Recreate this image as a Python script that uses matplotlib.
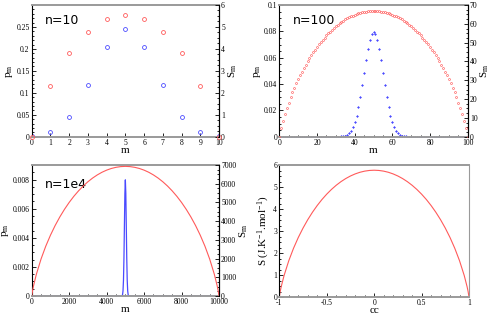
import numpy as np
import matplotlib
matplotlib.use("Agg")
import matplotlib.pyplot as plt
from matplotlib.ticker import MultipleLocator

plt.rcParams['font.family'] = ['Liberation Serif', 'DejaVu Serif']
plt.rcParams['mathtext.fontset'] = 'custom'
plt.rcParams['mathtext.rm'] = 'Liberation Serif'
plt.rcParams['mathtext.it'] = 'Liberation Serif'

red = '#ff5a5a'
blue = '#4a4aff'
grey = '#9a9a9a'

# n = 10
m10 = list(range(11))
p10 = [0.00098, 0.00977, 0.04395, 0.11719, 0.20508, 0.24609,
       0.20508, 0.11719, 0.04395, 0.00977, 0.00098]
s10 = [0.0, 2.303, 3.807, 4.787, 5.347, 5.529, 5.347, 4.787, 3.807, 2.303, 0.0]

# n = 100
m100 = list(range(101))
s100 = [0.0, 4.6, 8.5, 12.0, 15.2, 18.1, 20.9, 23.5, 25.9, 28.3,
        30.5, 32.6, 34.6, 36.5, 38.3, 40.1, 41.7, 43.3, 44.9, 46.3,
        47.7, 49.1, 50.3, 51.6, 52.7, 53.8, 54.9, 55.9, 56.9, 57.8,
        58.6, 59.5, 60.2, 60.9, 61.6, 62.3, 62.9, 63.4, 63.9, 64.4,
        64.8, 65.2, 65.5, 65.8, 66.1, 66.3, 66.5, 66.6, 66.7, 66.8,
        66.8,
        66.8, 66.7, 66.6, 66.5, 66.3, 66.1, 65.8, 65.5, 65.2, 64.8,
        64.4, 63.9, 63.4, 62.9, 62.3, 61.6, 60.9, 60.2, 59.5, 58.6,
        57.8, 56.9, 55.9, 54.9, 53.8, 52.7, 51.6, 50.3, 49.1, 47.7,
        46.3, 44.9, 43.3, 41.7, 40.1, 38.3, 36.5, 34.6, 32.6, 30.5,
        28.3, 25.9, 23.5, 20.9, 18.1, 15.2, 12.0, 8.5, 4.6, 0.0]
p100 = [0.0] * 30 + [
    0.00002, 0.00005, 0.00011, 0.00023, 0.00046, 0.00086, 0.00156, 0.00270,
    0.00448, 0.00711, 0.01084, 0.01587, 0.02229, 0.03007, 0.03895, 0.04847,
    0.05796, 0.06659, 0.07353, 0.07803, 0.07959, 0.07803, 0.07353, 0.06659,
    0.05796, 0.04847, 0.03895, 0.03007, 0.02229, 0.01587, 0.01084, 0.00711,
    0.00448, 0.00270, 0.00156, 0.00086, 0.00046, 0.00023, 0.00011, 0.00005,
    0.00002] + [0.0] * 30

# n = 1e4
m_s1e4 = [0, 50, 100, 250, 500, 750, 1000, 1250, 1500, 1750, 2000, 2250,
          2500, 2750, 3000, 3250, 3500, 3750, 4000, 4250, 4500, 4750, 5000,
          5250, 5500, 5750, 6000, 6250, 6500, 6750, 7000, 7250, 7500, 7750,
          8000, 8250, 8500, 8750, 9000, 9250, 9500, 9750, 9900, 9950, 10000]
s1e4 = [0, 310, 555, 1165, 1980, 2660, 3246, 3763, 4222, 4632, 4999, 5327,
        5618, 5877, 6104, 6301, 6469, 6611, 6725, 6814, 6876, 6914, 6927,
        6914, 6876, 6814, 6725, 6611, 6469, 6301, 6104, 5877, 5618, 5327,
        4999, 4632, 4222, 3763, 3246, 2660, 1980, 1165, 555, 310, 0]
m_p1e4 = [0, 4800, 4825, 4850, 4875, 4900, 4925, 4950, 4975, 5000,
          5025, 5050, 5075, 5100, 5125, 5150, 5175, 5200, 10000]
p1e4 = [0.0, 0.0000027, 0.0000175, 0.0000887, 0.000351, 0.00108, 0.002591,
        0.004839, 0.007042, 0.007979, 0.007042, 0.004839, 0.002591, 0.00108,
        0.000351, 0.0000887, 0.0000175, 0.0000027, 0.0]

# S(cc)
cc = [-1.0, -0.99, -0.98, -0.95, -0.9, -0.85, -0.8, -0.75, -0.7, -0.65, -0.6,
      -0.55, -0.5, -0.45, -0.4, -0.35, -0.3, -0.25, -0.2, -0.15, -0.1, -0.05,
      0.0, 0.05, 0.1, 0.15, 0.2, 0.25, 0.3, 0.35, 0.4, 0.45, 0.5, 0.55, 0.6,
      0.65, 0.7, 0.75, 0.8, 0.85, 0.9, 0.95, 0.98, 0.99, 1.0]
s_cc = [0.0, 0.262, 0.465, 0.972, 1.650, 2.215, 2.703, 3.132, 3.514, 3.855,
        4.160, 4.433, 4.675, 4.890, 5.079, 5.243, 5.383, 5.500, 5.595, 5.669,
        5.721, 5.752, 5.763, 5.752, 5.721, 5.669, 5.595, 5.500, 5.383, 5.243,
        5.079, 4.890, 4.675, 4.433, 4.160, 3.855, 3.514, 3.132, 2.703, 2.215,
        1.650, 0.972, 0.465, 0.262, 0.0]

W, H = 491, 314
fig = plt.figure(figsize=(W / 100, H / 100), dpi=100)
TS = 5.5


def frame(ax, right=True):
    ax.spines['top'].set_color(grey)
    ax.spines['bottom'].set_color(grey)
    ax.spines['top'].set_linewidth(1.4)
    ax.spines['bottom'].set_linewidth(1.4)
    ax.spines['left'].set_linewidth(0.8)
    ax.spines['right'].set_linewidth(0.8)
    if not right:
        ax.spines['right'].set_color(grey)
    ax.tick_params(which='both', direction='in', labelsize=TS, pad=1.5,
                   width=0.6, top=False)
    ax.tick_params(which='major', length=3)
    ax.tick_params(which='minor', length=1.5)


def twin_frame(ax2):
    ax2.spines['top'].set_visible(False)
    ax2.spines['bottom'].set_visible(False)
    ax2.spines['left'].set_visible(False)
    ax2.spines['right'].set_linewidth(0.8)
    ax2.tick_params(which='both', direction='in', labelsize=TS, pad=1.5, width=0.6)
    ax2.tick_params(which='major', length=3)
    ax2.tick_params(which='minor', length=1.5)


def axbox(x0, y0, x1, y1):
    return [x0 / W, 1 - y1 / H, (x1 - x0) / W, (y1 - y0) / H]


# top left
ax = fig.add_axes(axbox(31.7, 5, 219, 136.7))
frame(ax)
ax.plot(m10, p10, 'o', ms=2.8, mfc='none', mec=blue, mew=0.6)
ax.set_xlim(0, 10)
ax.set_ylim(0, 0.3)
ax.set_xticks(range(11))
ax.set_yticks([0, 0.05, 0.1, 0.15, 0.2, 0.25])
ax.set_yticklabels(['0', '0.05', '0.1', '0.15', '0.2', '0.25'])
ax.yaxis.set_minor_locator(MultipleLocator(0.01))
ax.set_xlabel('m', fontsize=8, labelpad=-0.5)
ax.set_ylabel('p$_\\mathrm{m}$', fontsize=8, labelpad=1)
ax.text(0.07, 0.93, 'n=10', transform=ax.transAxes, fontsize=9,
        family='DejaVu Sans', va='top')
ax2 = ax.twinx()
twin_frame(ax2)
ax2.plot(m10, s10, 'o', ms=2.8, mfc='none', mec=red, mew=0.6, clip_on=False)
ax2.set_ylim(0, 6)
ax2.yaxis.set_minor_locator(MultipleLocator(0.25))
ax2.set_ylabel('S$_\\mathrm{m}$', fontsize=8, labelpad=1)

# top right
ax = fig.add_axes(axbox(279.3, 5, 467.7, 136.7))
frame(ax)
ax.plot(m100, p100, 'D', ms=1.1, mfc=blue, mec=blue, mew=0.3)
ax.set_xlim(0, 100)
ax.set_ylim(0, 0.1)
ax.set_xticks(range(0, 101, 20))
ax.xaxis.set_minor_locator(MultipleLocator(5))
ax.set_yticks([0, 0.02, 0.04, 0.06, 0.08, 0.1])
ax.set_yticklabels(['0', '0.02', '0.04', '0.06', '0.08', '0.1'])
ax.yaxis.set_minor_locator(MultipleLocator(0.005))
ax.set_xlabel('m', fontsize=8, labelpad=-0.5)
ax.set_ylabel('p$_\\mathrm{m}$', fontsize=8, labelpad=1)
ax.text(0.07, 0.93, 'n=100', transform=ax.transAxes, fontsize=9,
        family='DejaVu Sans', va='top')
ax2 = ax.twinx()
twin_frame(ax2)
ax2.plot(m100, s100, 'o', ms=1.4, mfc='none', mec=red, mew=0.45)
ax2.set_ylim(0, 70)
ax2.yaxis.set_minor_locator(MultipleLocator(2.5))
ax2.set_ylabel('S$_\\mathrm{m}$', fontsize=8, labelpad=1)

# bottom left
ax = fig.add_axes(axbox(31.7, 165, 219, 296))
frame(ax)
ax.plot(m_p1e4, p1e4, '-', color=blue, lw=0.9)
ax.set_xlim(0, 10000)
ax.set_ylim(0, 0.009)
ax.set_xticks(range(0, 10001, 2000))
ax.xaxis.set_minor_locator(MultipleLocator(500))
ax.set_yticks([0, 0.002, 0.004, 0.006, 0.008])
ax.set_yticklabels(['0', '0.002', '0.004', '0.006', '0.008'])
ax.yaxis.set_minor_locator(MultipleLocator(0.0005))
ax.set_xlabel('m', fontsize=8, labelpad=-1)
ax.set_ylabel('p$_\\mathrm{m}$', fontsize=8, labelpad=1)
ax.text(0.07, 0.9, 'n=1e4', transform=ax.transAxes, fontsize=9,
        family='DejaVu Sans', va='top')
ax2 = ax.twinx()
twin_frame(ax2)
ax2.plot(m_s1e4, s1e4, '-', color=red, lw=0.8)
ax2.set_ylim(0, 7000)
ax2.yaxis.set_minor_locator(MultipleLocator(250))
ax2.set_ylabel('S$_\\mathrm{m}$', fontsize=8, labelpad=1)

# bottom right
ax = fig.add_axes(axbox(279.3, 165, 469, 297))
frame(ax, right=False)
ax.plot(cc, s_cc, '-', color=red, lw=0.8)
ax.set_xlim(-1, 1)
ax.set_ylim(0, 6)
ax.set_xticks([-1, -0.5, 0, 0.5, 1])
ax.set_xticklabels(['-1', '-0.5', '0', '0.5', '1'])
ax.xaxis.set_minor_locator(MultipleLocator(0.1))
ax.yaxis.set_minor_locator(MultipleLocator(0.25))
ax.set_xlabel('cc', fontsize=8, labelpad=-1)
ax.set_ylabel('S (J.K$^{-1}$.mol$^{-1}$)', fontsize=8, labelpad=1)

fig.savefig('out.png', dpi=100)
